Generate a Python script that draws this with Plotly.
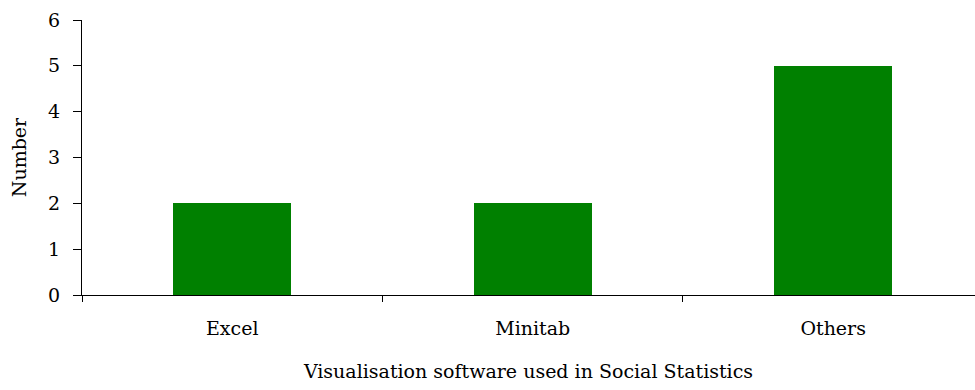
import plotly.graph_objects as go

categories = ["Excel", "Minitab", "Others"]
values = [2, 2, 5]
y_ticks = [0, 1, 2, 3, 4, 5, 6]

FONT = dict(family="DejaVu Serif", size=19, color="#000000")

fig = go.Figure(
    go.Bar(
        x=categories,
        y=values,
        marker=dict(color="#008000", line=dict(width=0)),
        width=0.393,
    )
)

fig.update_layout(
    width=975,
    height=390,
    margin=dict(l=82, r=0, t=20, b=95),
    paper_bgcolor="white",
    plot_bgcolor="white",
    font=FONT,
    showlegend=False,
    bargap=0,
)

fig.update_xaxes(
    type="category",
    range=[-0.5, 2.472],
    showline=True,
    linecolor="black",
    linewidth=1,
    ticks="outside",
    tickson="boundaries",
    ticklen=6,
    tickcolor="black",
    showgrid=False,
    zeroline=False,
    tickfont=FONT,
    ticklabelstandoff=16,
    title=dict(text="Visualisation software used in Social Statistics", font=FONT, standoff=26),
)

fig.update_yaxes(
    range=[0, 6],
    tickvals=y_ticks,
    showline=True,
    linecolor="black",
    linewidth=1,
    ticks="outside",
    ticklen=8,
    tickcolor="black",
    showgrid=False,
    zeroline=False,
    tickfont=FONT,
    ticklabelstandoff=9,
    title=dict(text="Number", font=FONT, standoff=16),
)

fig.write_html("out.html")
